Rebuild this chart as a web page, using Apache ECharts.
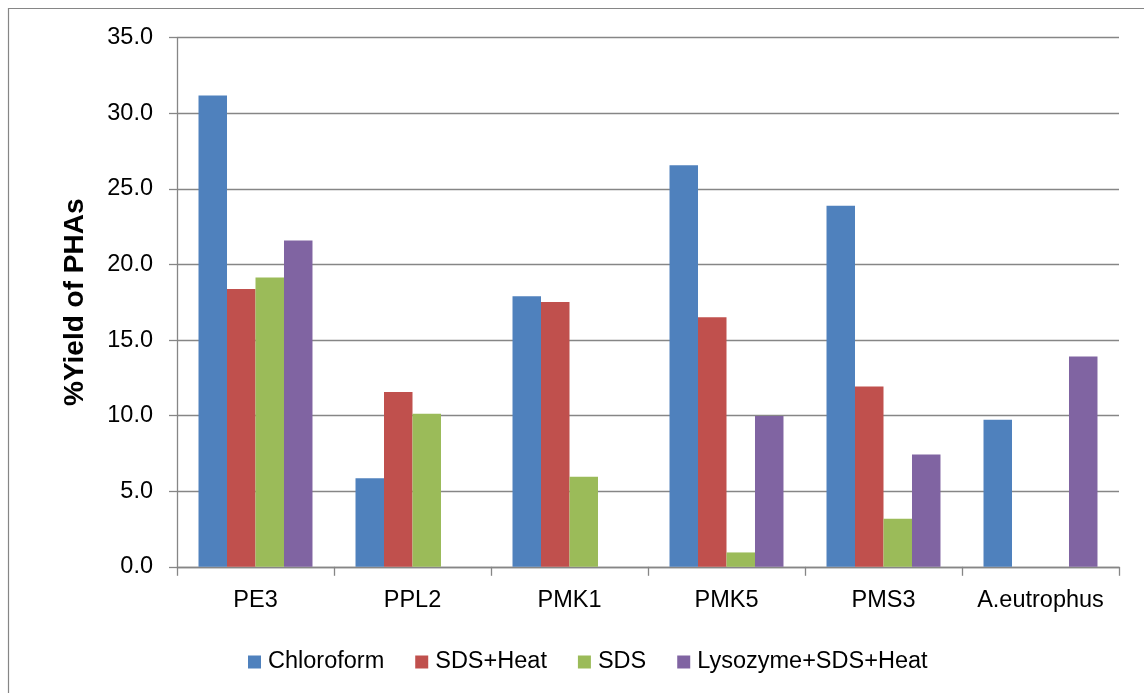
<!DOCTYPE html>
<html>
<head>
<meta charset="utf-8">
<script src="https://cdn.jsdelivr.net/npm/echarts@6/dist/echarts.min.js"></script>
<style>
html,body{margin:0;padding:0;background:#fff;}
#chart{width:1144px;height:693px;}
</style>
</head>
<body>
<div id="chart"></div>
<script>
var categories = ['PE3', 'PPL2', 'PMK1', 'PMK5', 'PMS3', 'A.eutrophus'];
var seriesNames = ['Chloroform', 'SDS+Heat', 'SDS', 'Lysozyme+SDS+Heat'];
var chloroform = [31.18, 5.85, 17.90, 26.57, 23.88, 9.72];
var sdsHeat = [18.37, 11.57, 17.51, 16.51, 11.93, null];
var sds = [19.14, 10.12, 5.95, 0.95, 3.18, null];
var lysozymeSdsHeat = [21.59, null, null, 9.97, 7.43, 13.91];
var yTicks = [0, 5, 10, 15, 20, 25, 30, 35];
var yTitle = '%Yield of PHAs';

var colors = ['#4F81BD', '#C0504D', '#9BBB59', '#8064A2'];
var font = 'Liberation Sans';
var chart = echarts.init(document.getElementById('chart'));
var values = [chloroform, sdsHeat, sds, lysozymeSdsHeat];

chart.setOption({
  animation: false,
  color: colors,
  textStyle: {fontFamily: font, color: '#000'},
  graphic: [{
    type: 'rect', shape: {x: 8.5, y: 8.5, width: 1300, height: 900},
    style: {fill: 'none', stroke: '#868686', lineWidth: 1.2}, silent: true, z: -1
  }],
  grid: {left: 177, right: 25, top: 37.7, bottom: 126.2},
  legend: {
    left: 243, top: 645,
    icon: 'rect', itemWidth: 13, itemHeight: 13, itemGap: 31,
    textStyle: {fontFamily: font, fontSize: 23.5, color: '#000', padding: [0, 0, 0, 2]},
    data: seriesNames
  },
  xAxis: {
    type: 'category',
    data: categories,
    axisLine: {lineStyle: {color: '#868686', width: 1.3}},
    axisTick: {show: true, interval: 0, length: 9, lineStyle: {color: '#868686', width: 1.3}},
    axisLabel: {interval: 0, fontFamily: font, fontSize: 23.5, color: '#000', margin: 22}
  },
  yAxis: {
    type: 'value',
    min: yTicks[0], max: yTicks[yTicks.length - 1], interval: yTicks[1] - yTicks[0],
    name: yTitle,
    nameLocation: 'middle',
    nameGap: 88,
    nameTextStyle: {fontFamily: font, fontSize: 28, fontWeight: 'bold', color: '#000'},
    axisLine: {show: true, lineStyle: {color: '#868686', width: 1.3}},
    axisTick: {show: true, length: 8, lineStyle: {color: '#868686', width: 1.3}},
    axisLabel: {fontFamily: font, fontSize: 23.5, color: '#000', margin: 24,
      formatter: function (v) { return v.toFixed(1); }},
    splitLine: {show: true, lineStyle: {color: '#868686', width: 1.3}}
  },
  series: seriesNames.map(function (n, i) {
    return {
      name: n, type: 'bar', data: values[i],
      barGap: '0%', barCategoryGap: '27.4%',
      itemStyle: {color: colors[i]}
    };
  })
});
</script>
</body>
</html>
